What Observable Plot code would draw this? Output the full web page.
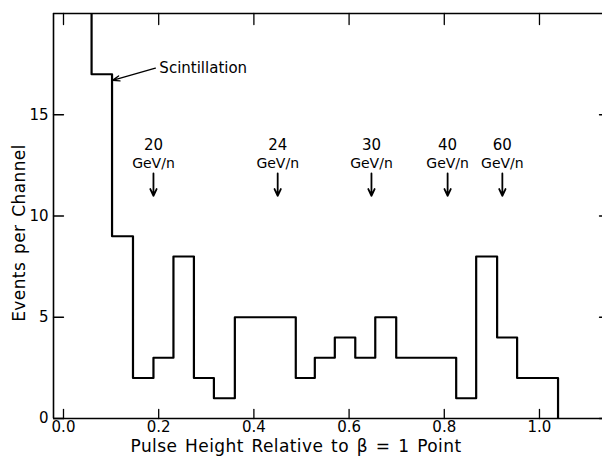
<!DOCTYPE html>
<html><head><meta charset="utf-8">
<script src="https://cdn.jsdelivr.net/npm/d3@7"></script>
<script src="https://cdn.jsdelivr.net/npm/@observablehq/plot@0.6"></script>
<style>
html,body{margin:0;padding:0;background:#fff;overflow:hidden;}
#chart{width:602px;height:462px;overflow:hidden;position:relative;}
#chart svg{display:block;}
</style></head><body><div id="chart"></div>
<script>
// Histogram bin edges (pulse height) and event counts per channel
const binEdges = [0.016, 0.059, 0.102, 0.146, 0.189, 0.231, 0.274, 0.316, 0.360, 0.402, 0.445, 0.488,
                  0.528, 0.570, 0.613, 0.655, 0.699, 0.741, 0.783, 0.825, 0.867, 0.911, 0.953, 0.996, 1.039];
const binCounts = [22, 17, 9, 2, 3, 8, 2, 1, 5, 5, 5, 2, 3, 4, 3, 5, 3, 3, 3, 1, 8, 4, 2, 2];

// Energy markers
const energyLabels = ["20", "24", "30", "40", "60"];
const energyUnit = "GeV/n";
const energyPositions = [0.189, 0.450, 0.647, 0.807, 0.922];

// Axes
const xDomain = [-0.021, 1.145];
const yDomain = [0, 20];
const xTicks = [0, 0.2, 0.4, 0.6, 0.8, 1.0];
const yTicks = [0, 5, 10, 15];
const xLabel = "Pulse Height Relative to β = 1 Point";
const yLabel = "Events per Channel";
const scintLabel = "Scintillation";
const scintArrowFrom = [0.193, 17.3];
const scintArrowTo = [0.103, 16.7];

const steps = binEdges.map((e, i) => ({x: e, y: i < binCounts.length ? binCounts[i] : 0}));
const energy = energyLabels.map((l, i) => ({label: l, x: energyPositions[i]}));

// straight tick shape for vector marks
const tickShape = {draw(context, l) { context.moveTo(0, 0); context.lineTo(0, -l); }};

const font = "DejaVu Sans";
const chart = Plot.plot({
  width: 602, height: 462,
  marginLeft: 53, marginRight: -6, marginTop: 13, marginBottom: 44,
  style: {fontFamily: font, background: "#fff", color: "#000"},
  x: {domain: xDomain},
  y: {domain: yDomain},
  marks: [
    Plot.line(steps, {x: "x", y: "y", curve: "step-after", stroke: "#000", strokeWidth: 2.2, clip: "frame"}),
    // frame: top, bottom, left (right edge lies outside the picture)
    Plot.ruleY(yDomain, {stroke: "#000", strokeWidth: 1.6}),
    Plot.ruleX([xDomain[0]], {stroke: "#000", strokeWidth: 1.6}),
    // inward ticks
    Plot.vector(xTicks, {x: d => d, frameAnchor: "bottom", length: 9, rotate: 0, anchor: "start", shape: tickShape, stroke: "#000", strokeWidth: 1.3}),
    Plot.vector(xTicks, {x: d => d, frameAnchor: "top", length: 11, rotate: 180, anchor: "start", shape: tickShape, stroke: "#000", strokeWidth: 1.3}),
    Plot.vector(yTicks, {y: d => d, frameAnchor: "left", length: 10, rotate: 90, anchor: "start", shape: tickShape, stroke: "#000", strokeWidth: 1.3}),
    Plot.vector(yTicks, {y: d => d, frameAnchor: "right", length: 9, rotate: -90, anchor: "start", shape: tickShape, stroke: "#000", strokeWidth: 1.3}),
    // tick labels
    Plot.axisX({anchor: "bottom", ticks: xTicks, tickSize: 0, tickPadding: 3, tickFormat: d3.format(".1f"), label: null, fontSize: 15, fill: "#000"}),
    Plot.axisY({anchor: "left", ticks: yTicks, tickSize: 0, tickPadding: 5, label: null, fontSize: 15, fill: "#000"}),
    // axis titles
    Plot.text([xLabel], {frameAnchor: "bottom", dy: 33, dx: -35, fontSize: 17, fill: "#000"}),
    Plot.text([yLabel], {frameAnchor: "left", textAnchor: "middle", rotate: -90, dx: -34, dy: 17, fontSize: 17, fill: "#000"}),
    // energy annotations
    Plot.text(energy, {x: "x", y: 13.5, text: "label", fontSize: 15, fill: "#000"}),
    Plot.text(energy, {x: "x", y: 12.6, text: () => energyUnit, fontSize: 14, fill: "#000"}),
    Plot.arrow(energy, {x: "x", y1: 12.1, y2: 11.0, stroke: "#000", strokeWidth: 1.8, headLength: 7, headAngle: 50}),
    // scintillation annotation
    Plot.arrow([0], {x1: () => scintArrowFrom[0], y1: () => scintArrowFrom[1], x2: () => scintArrowTo[0], y2: () => scintArrowTo[1], stroke: "#000", strokeWidth: 1.4, headLength: 8, headAngle: 40}),
    Plot.text([scintLabel], {x: () => scintArrowFrom[0], y: () => scintArrowFrom[1], textAnchor: "start", dx: 4, fontSize: 15, fill: "#000"})
  ]
});
d3.select(chart).selectAll("text").each(function() {
  const t = this.textContent;
  if (t === xLabel || t === yLabel) d3.select(this).style("letter-spacing", "0.4px").style("word-spacing", "2px");
});
document.getElementById("chart").appendChild(chart);
</script></body></html>
